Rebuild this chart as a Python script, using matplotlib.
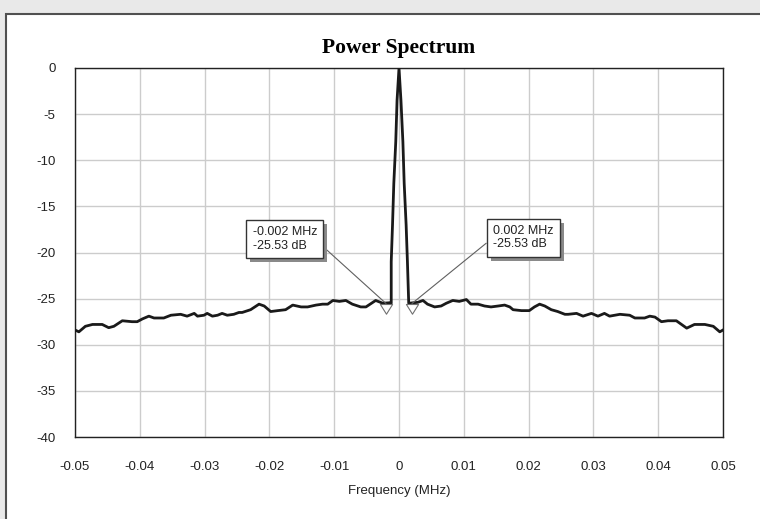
import matplotlib
matplotlib.use("Agg")
import matplotlib.pyplot as plt
import matplotlib.patheffects as pe
from matplotlib.patches import Rectangle
from matplotlib.path import Path

# spectrum (MHz, dB)
freq = [
    -0.0500, -0.0494, -0.0484, -0.0473, -0.0458, -0.0448, -0.0440, -0.0427,
    -0.0412, -0.0404, -0.0396, -0.0386, -0.0378, -0.0363, -0.0352, -0.0337,
    -0.0327, -0.0316, -0.0311, -0.0301, -0.0296, -0.0288, -0.0280, -0.0273,
    -0.0265, -0.0255, -0.0247, -0.0242, -0.0229, -0.0216, -0.0208, -0.0198,
    -0.0187, -0.0175, -0.0164, -0.0151, -0.0141, -0.0128, -0.0118, -0.0110,
    -0.0102, -0.0092, -0.0082, -0.0072, -0.0059, -0.0051, -0.0036, -0.0025,
    -0.0015, -0.0012,
    -0.0012, -0.0010, -0.0008, -0.0005, -0.0003, 0.0000,
    0.0003, 0.0006, 0.0008, 0.0011, 0.0013, 0.0015,
    0.0015, 0.0029, 0.0037, 0.0044, 0.0055, 0.0065, 0.0073, 0.0083,
    0.0093, 0.0104, 0.0111, 0.0122, 0.0132, 0.0142, 0.0153, 0.0163,
    0.0171, 0.0176, 0.0189, 0.0201, 0.0209, 0.0217, 0.0225, 0.0235,
    0.0245, 0.0256, 0.0261, 0.0274, 0.0284, 0.0297, 0.0307, 0.0317,
    0.0325, 0.0341, 0.0356, 0.0364, 0.0379, 0.0387, 0.0395, 0.0405,
    0.0415, 0.0428, 0.0444, 0.0456, 0.0472, 0.0485, 0.0495, 0.0500,
]
power_db = [
    -28.4, -28.6, -28.0, -27.8, -27.8, -28.15, -28.0, -27.4,
    -27.5, -27.5, -27.2, -26.9, -27.1, -27.1, -26.8, -26.7,
    -26.9, -26.6, -26.9, -26.8, -26.6, -26.9, -26.8, -26.6,
    -26.8, -26.7, -26.5, -26.5, -26.2, -25.6, -25.8, -26.4,
    -26.3, -26.2, -25.7, -25.9, -25.9, -25.7, -25.6, -25.6,
    -25.2, -25.3, -25.2, -25.6, -25.9, -25.9, -25.2, -25.5,
    -25.45, -25.5,
    -21.0, -17.0, -12.5, -8.0, -3.5, 0.0,
    -3.5, -8.0, -12.5, -17.0, -21.0, -25.5,
    -25.5, -25.4, -25.2, -25.6, -25.9, -25.8, -25.5, -25.2,
    -25.3, -25.1, -25.6, -25.6, -25.8, -25.9, -25.8, -25.7,
    -25.9, -26.2, -26.3, -26.3, -25.9, -25.6, -25.8, -26.2,
    -26.4, -26.7, -26.7, -26.6, -26.9, -26.6, -26.9, -26.6,
    -26.9, -26.7, -26.8, -27.1, -27.1, -26.9, -27.0, -27.5,
    -27.4, -27.4, -28.2, -27.8, -27.8, -28.0, -28.6, -28.4,
]

marker_freq = [-0.002, 0.002]
marker_db = [-25.53, -25.53]
marker_labels = ["-0.002 MHz\n-25.53 dB", "0.002 MHz\n-25.53 dB"]
label_pos = [(-0.0226, -18.55), (0.0145, -18.4)]
label_relpos = [(1.0, 0.42), (0.0, 0.5)]

xticks = [-0.05, -0.04, -0.03, -0.02, -0.01, 0, 0.01, 0.02, 0.03, 0.04, 0.05]
xtick_labels = ["-0.05", "-0.04", "-0.03", "-0.02", "-0.01", "0",
                "0.01", "0.02", "0.03", "0.04", "0.05"]
yticks = [0, -5, -10, -15, -20, -25, -30, -35, -40]

plt.rcParams["font.family"] = ["Liberation Sans", "DejaVu Sans"]
plt.rcParams["axes.unicode_minus"] = False

fig = plt.figure(figsize=(7.6, 5.19), dpi=100, facecolor="#e9e9e9")
# white panel behind the chart
fig.patches.append(Rectangle((6 / 760, -0.1), 1.2, 1.1 - 14 / 519,
                             transform=fig.transFigure, facecolor="white",
                             edgecolor="#505050", lw=1.5, zorder=-10))

ax = fig.add_axes([75 / 760, 1 - 437 / 519, 648 / 760, 369 / 519])
ax.set_facecolor("white")
ax.plot(freq, power_db, color="#1a1a1a", lw=2.0, zorder=3)

# hollow triangle that hangs below the point
tri = Path([(-1, 0), (1, 0), (0, -1.6), (-1, 0)],
           [Path.MOVETO, Path.LINETO, Path.LINETO, Path.CLOSEPOLY])
ax.plot(marker_freq, marker_db, ls="none", marker=tri, ms=14,
        mfc="white", mec="#707070", mew=0.8, zorder=4)

for fx, db, txt, pos, rp in zip(marker_freq, marker_db, marker_labels,
                                label_pos, label_relpos):
    ann = ax.annotate(txt, xy=(fx, db), xytext=pos, textcoords="data",
                      ha="left", va="center", fontsize=9, color="#222222",
                      linespacing=1.15, zorder=5,
                      bbox=dict(boxstyle="square,pad=0.5", fc="white",
                                ec="#333333", lw=1.0),
                      arrowprops=dict(arrowstyle="-", color="#606060", lw=0.8,
                                      relpos=rp, shrinkA=0, shrinkB=0))
    ann.get_bbox_patch().set_path_effects([
        pe.SimplePatchShadow(offset=(3, -3), shadow_rgbFace="#8a8a8a", alpha=1.0),
        pe.Normal()])

ax.set_xlim(-0.05, 0.05)
ax.set_ylim(-40, 0)
ax.set_xticks(xticks)
ax.set_xticklabels(xtick_labels)
ax.set_yticks(yticks)
ax.tick_params(length=0, labelsize=9.5, colors="#222222")
ax.tick_params(axis="x", pad=17)
ax.tick_params(axis="y", pad=14)
ax.grid(True, color="#cccccc", lw=1.0)
ax.set_axisbelow(True)
for s in ax.spines.values():
    s.set_color("#222222")
    s.set_linewidth(1.0)

ax.set_title("Power Spectrum", family=["Liberation Serif"], fontweight="bold",
             fontsize=15.5, pad=11)
ax.set_xlabel("Frequency (MHz)", fontsize=9.5, color="#222222", labelpad=9)

fig.savefig("out.png", dpi=100, facecolor=fig.get_facecolor())
